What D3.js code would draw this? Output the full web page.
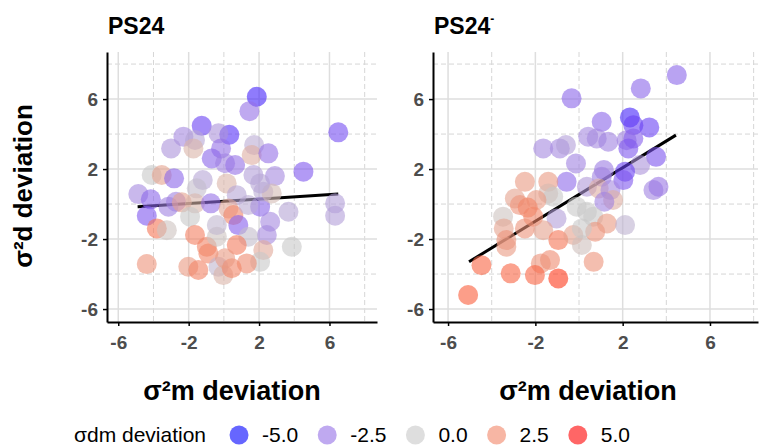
<!DOCTYPE html>
<html>
<head>
<meta charset="utf-8">
<script src="https://cdn.jsdelivr.net/npm/d3@7"></script>
<style>
  body { margin: 0; background: #fff; }
  text { font-family: "Liberation Sans", Arial, sans-serif; }
</style>
</head>
<body>
<div id="chart"></div>
<script>
// tick values
const majorTicks = [-6, -2, 2, 6];
const minorTicks = [-4, 0, 4, 8];
const legendValues = [-5, -2.5, 0, 2.5, 5];

// [sigma2m deviation, sigma2d deviation, sigmadm deviation]
const ps24Points = [
  [1.87, 6.13, -4.5], [1.45, 5.31, -2.5], [6.5, 4.1, -3.5], [-1.26, 4.47, -3.8],
  [0.31, 3.96, -4.2], [-2.3, 3.85, -1.8], [-1.64, 3.66, -1], [-0.31, 4.04, -1.5],
  [-3.0, 3.18, -1.5], [-1.73, 3.18, 0.8], [-0.16, 3.18, -2.5], [-0.69, 2.61, -2.8],
  [0.07, 2.33, -2], [0.64, 2.23, -2.5], [1.72, 3.37, -0.8], [1.58, 2.8, 1],
  [2.53, 2.9, -2.5], [4.52, 1.85, -3.2], [1.68, 1.66, -1.2], [2.9, 1.6, -1.8],
  [-4.1, 1.66, 0], [-3.53, 1.66, 1.5], [-2.83, 1.47, -2.8], [-1.2, 1.37, -1],
  [0.16, 1.18, 0.8], [-1.54, 0.9, -0.3], [-4.86, 0.57, -1.8], [-4.15, 0.27, -2.8],
  [-4.38, -0.67, -3.2], [-3.15, -0.15, -2], [-2.72, 0.13, -2], [-2.39, 0.1, 1.5],
  [-1.64, 0.04, 0.7], [-1.92, -0.72, 0], [-0.74, 0.04, -2.5], [0.73, 0.51, -1],
  [0.26, -0.25, 1.2], [0.54, -0.63, 2.5], [2.06, -0.15, -2.8], [2.24, 0.7, -0.8],
  [2.72, 0.61, 0.5], [3.67, -0.44, -1], [6.32, 0.04, -1.2], [6.32, -0.67, -1.2],
  [2.63, -1.01, -1.8], [0.82, -1.2, -3], [2.44, -1.77, -1.8], [1.39, -1.87, -0.3],
  [3.86, -2.44, 0], [-3.81, -1.39, 3], [-3.24, -1.49, 0.2], [-1.64, -1.77, 2.7],
  [-0.97, -2.44, 2.5], [-0.88, -2.82, 2.5], [-0.4, -1.87, 0.2], [0.73, -2.34, 2.8],
  [2.24, -2.63, 1.2], [2.06, -3.3, 0], [1.3, -3.39, 2.3], [-4.38, -3.43, 2],
  [-2.02, -3.58, 1.8], [-1.45, -3.77, 2.6], [-0.31, -3.58, -0.5], [-0.03, -4.06, 0.8],
  [0.45, -3.67, 2.5], [0.07, -3.1, 1.8], [2.06, 1.18, -1], [1.39, -0.06, -0.8],
  [-0.4, -1.2, -0.5]
];

const ps24MinusPoints = [
  [4.48, 7.37, -2.8], [2.83, 6.61, -2.8], [-0.34, 6.04, -2.8], [2.33, 4.95, -4.5],
  [2.49, 4.51, -3.8], [3.22, 4.38, -3.8], [1.04, 4.7, -2.8], [0.42, 3.85, -1.8],
  [0.81, 3.75, -1.8], [1.34, 3.56, -2], [2.18, 3.65, -2], [2.49, 3.75, -3],
  [2.26, 3.18, -3.2], [-1.64, 3.18, -1.8], [-0.88, 3.18, -1.8], [-0.6, 3.37, -1.2],
  [3.53, 2.7, -3.3], [-0.14, 2.32, -2], [2.8, 2.23, -1.5], [2.11, 1.85, -3.8],
  [1.14, 1.94, -2.2], [2.03, 1.37, -3.2], [1.04, 1.56, -2], [3.41, 0.8, -2],
  [3.64, 0.99, -2.3], [-0.57, 1.27, -2.7], [0.36, 0.99, -1.3], [0.9, 0.89, 1],
  [1.44, 0.8, -1.8], [1.56, 0.23, 1], [1.16, 0.13, -2], [-2.48, 1.27, 1.8],
  [-1.41, 1.27, 1.8], [-1.41, 0.61, 0.6], [-1.18, 0.42, 0], [-2.94, 0.32, 1.5],
  [-2.71, -0.06, 2], [-1.95, 0.23, 1.8], [-2.35, -0.2, 2.5], [-0.11, -0.15, 0],
  [0.36, -0.44, 0], [0.65, -0.72, 0], [-2.1, -0.72, 2.5], [-1.03, -0.82, -1.2],
  [-3.48, -0.72, 0.2], [-3.45, -1.39, 1.5], [-3.33, -2.06, 2], [-3.33, -2.44, 1.8],
  [-2.48, -1.39, 2], [-1.64, -1.49, 1.5], [-0.95, -2.06, 3], [-0.26, -1.77, 1.5],
  [0.13, -2.34, 0.3], [0.74, -1.58, 2], [1.28, -1.11, 1.8], [2.11, -1.2, -0.6],
  [0.13, -1.39, 0], [0.67, -3.3, 2], [-1.33, -3.2, 2.3], [-1.75, -3.39, 2],
  [-4.47, -3.49, 3.5], [-3.13, -3.96, 3.5], [-2.02, -4.06, 3.5], [-0.95, -4.25, 4.5],
  [-5.08, -5.2, 3.7]
];

// fitted line ends (lm)
const ps24Fit = [[-4.9, -0.15], [6.5, 0.57]];
const ps24MinusFit = [[-5.04, -3.3], [4.44, 3.94]];

const width = 762, height = 446;
const svg = d3.select('#chart').append('svg')
  .attr('width', width)
  .attr('height', height);

const color = d3.scaleLinear()
  .domain([-5, 0, 5])
  .range(['#0000ff', '#c8c8c8', '#ff0000'])
  .interpolate(d3.interpolateLab);

const yDomain = [-6.74, 8.69];
const panelTop = 52, panelBottom = 322;

function drawPanel(points, fit, xDomain, xRange, titleX) {
  const x = d3.scaleLinear().domain(xDomain).range(xRange);
  const y = d3.scaleLinear().domain(yDomain).range([panelBottom, panelTop]);
  const g = svg.append('g');

  // grid
  g.selectAll('.hmin').data(minorTicks).enter().append('line')
    .attr('x1', xRange[0]).attr('x2', xRange[1])
    .attr('y1', d => y(d)).attr('y2', d => y(d))
    .attr('stroke', '#d6d6d6').attr('stroke-width', 1).attr('stroke-dasharray', '5,3');
  g.selectAll('.vmin').data(minorTicks).enter().append('line')
    .attr('x1', d => x(d)).attr('x2', d => x(d))
    .attr('y1', panelTop).attr('y2', panelBottom)
    .attr('stroke', '#d6d6d6').attr('stroke-width', 1).attr('stroke-dasharray', '5,3');
  g.selectAll('.hmaj').data(majorTicks).enter().append('line')
    .attr('x1', xRange[0]).attr('x2', xRange[1])
    .attr('y1', d => y(d)).attr('y2', d => y(d))
    .attr('stroke', '#dedede').attr('stroke-width', 1.5);
  g.selectAll('.vmaj').data(majorTicks).enter().append('line')
    .attr('x1', d => x(d)).attr('x2', d => x(d))
    .attr('y1', panelTop).attr('y2', panelBottom)
    .attr('stroke', '#dedede').attr('stroke-width', 1.5);

  // regression line under the points
  g.append('path')
    .datum(fit)
    .attr('d', d3.line().x(d => x(d[0])).y(d => y(d[1])))
    .attr('stroke', '#000').attr('stroke-width', 3).attr('fill', 'none');

  g.selectAll('.dot').data(points).enter().append('circle')
    .attr('cx', d => x(d[0]))
    .attr('cy', d => y(d[1]))
    .attr('r', 10)
    .attr('fill', d => color(d[2]))
    .attr('fill-opacity', 0.6);

  // axes
  const yAxis = g.append('g')
    .attr('transform', `translate(${xRange[0]},0)`)
    .call(d3.axisLeft(y).tickValues(majorTicks).tickFormat(d => String(d))
      .tickSize(4).tickSizeOuter(0).tickPadding(5));
  const xAxis = g.append('g')
    .attr('transform', `translate(0,${panelBottom})`)
    .call(d3.axisBottom(x).tickValues(majorTicks).tickFormat(d => String(d))
      .tickSize(4).tickSizeOuter(0).tickPadding(10));
  [xAxis, yAxis].forEach(a => {
    a.select('.domain').attr('stroke', '#000').attr('stroke-width', 2);
    a.selectAll('.tick line').attr('stroke', '#000').attr('stroke-width', 1.5);
    a.selectAll('.tick text')
      .attr('fill', '#4d4d4d')
      .style('font-size', '19px')
      .style('font-weight', 'bold')
      .style('font-family', '"Liberation Sans", Arial, sans-serif');
  });

  // x axis title
  g.append('text')
    .attr('x', titleX)
    .attr('y', 400)
    .attr('text-anchor', 'middle')
    .style('font-size', '27px')
    .style('font-weight', 'bold')
    .text('σ²m deviation');

  return g;
}

const left = drawPanel(ps24Points, ps24Fit, [-6.64, 8.7], [107, 377], 232);
const right = drawPanel(ps24MinusPoints, ps24MinusFit, [-6.69, 8.2], [433, 758], 588);

left.append('text')
  .attr('x', 108).attr('y', 34)
  .style('font-size', '23px').style('font-weight', 'bold')
  .text('PS24');

const rt = right.append('text')
  .attr('x', 434).attr('y', 34)
  .style('font-size', '23px').style('font-weight', 'bold')
  .text('PS24');
rt.append('tspan')
  .attr('dy', -11)
  .style('font-size', '12px')
  .text('-');

// y axis title
svg.append('text')
  .attr('transform', 'translate(32,186) rotate(-90)')
  .attr('text-anchor', 'middle')
  .style('font-size', '26px')
  .style('font-weight', 'bold')
  .text('σ²d deviation');

// legend
const legend = svg.append('g').attr('transform', 'translate(0,435)');
const legStart = 74;
const legTitle = legend.append('text')
  .attr('x', legStart).attr('y', 7)
  .style('font-size', '21px')
  .text('σdm deviation');
let cursor = legStart + legTitle.node().getComputedTextLength() + 24;
legendValues.forEach(v => {
  legend.append('circle')
    .attr('cx', cursor + 9).attr('cy', 0).attr('r', 9.5)
    .attr('fill', color(v)).attr('fill-opacity', 0.6);
  const t = legend.append('text')
    .attr('x', cursor + 32).attr('y', 7)
    .style('font-size', '21px')
    .text(v.toFixed(1));
  cursor += 32 + t.node().getComputedTextLength() + 20;
});
</script>
</body>
</html>
